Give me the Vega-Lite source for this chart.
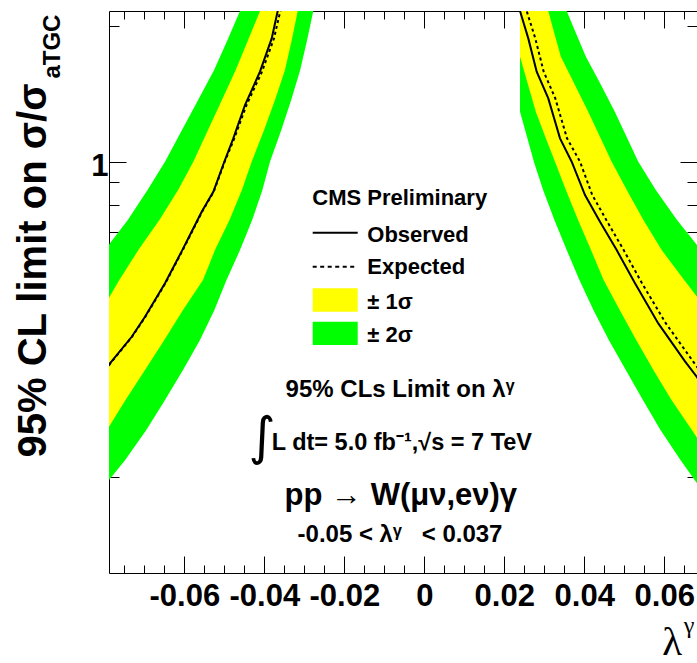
{
  "$schema": "https://vega.github.io/schema/vega-lite/v6.json",
  "width": 588,
  "height": 562,
  "autosize": {"type": "none"},
  "padding": {"left": 109, "top": 11, "right": 0, "bottom": 90},
  "background": "white",
  "config": {
    "view": {"stroke": "black", "strokeWidth": 1},
    "axis": {"grid": false, "domain": false, "tickColor": "black", "tickWidth": 1, "labelColor": "black", "titleColor": "black"}
  },
  "resolve": {"axis": {"x": "independent", "y": "independent"}},
  "datasets": {
    "green": [
      {"branch": "L", "sigma": 2.285, "lo": -0.0449, "hi": -0.02715},
      {"branch": "L", "sigma": 2.16, "lo": -0.04608, "hi": -0.02775},
      {"branch": "L", "sigma": 1.862, "lo": -0.0492, "hi": -0.0293},
      {"branch": "L", "sigma": 1.598, "lo": -0.05255, "hi": -0.03103},
      {"branch": "L", "sigma": 1.37, "lo": -0.05655, "hi": -0.03328},
      {"branch": "L", "sigma": 1.176, "lo": -0.06058, "hi": -0.03575},
      {"branch": "L", "sigma": 1.0, "lo": -0.06483, "hi": -0.03858},
      {"branch": "L", "sigma": 0.8655, "lo": -0.0692, "hi": -0.04048},
      {"branch": "L", "sigma": 0.7425, "lo": -0.07413, "hi": -0.04303},
      {"branch": "L", "sigma": 0.6367, "lo": -0.0799, "hi": -0.04608},
      {"branch": "L", "sigma": 0.5464, "lo": -0.08633, "hi": -0.04945},
      {"branch": "L", "sigma": 0.4689, "lo": -0.0927, "hi": -0.05248},
      {"branch": "L", "sigma": 0.4022, "lo": -0.09908, "hi": -0.05608},
      {"branch": "L", "sigma": 0.345, "lo": -0.10558, "hi": -0.06033},
      {"branch": "L", "sigma": 0.296, "lo": -0.11183, "hi": -0.06483},
      {"branch": "L", "sigma": 0.2539, "lo": -0.11833, "hi": -0.0695},
      {"branch": "L", "sigma": 0.2179, "lo": -0.12458, "hi": -0.07478},
      {"branch": "L", "sigma": 0.1869, "lo": -0.13108, "hi": -0.08085},
      {"branch": "L", "sigma": 0.1776, "lo": -0.13333, "hi": -0.08288},
      {"branch": "R", "sigma": 2.285, "lo": 0.02393, "hi": 0.03445},
      {"branch": "R", "sigma": 2.16, "lo": 0.02393, "hi": 0.0356},
      {"branch": "R", "sigma": 1.96, "lo": 0.02393, "hi": 0.03758},
      {"branch": "R", "sigma": 1.71, "lo": 0.02393, "hi": 0.0404},
      {"branch": "R", "sigma": 1.518, "lo": 0.02393, "hi": 0.04353},
      {"branch": "R", "sigma": 1.291, "lo": 0.02393, "hi": 0.04763},
      {"branch": "R", "sigma": 1.117, "lo": 0.0259, "hi": 0.05095},
      {"branch": "R", "sigma": 1.0, "lo": 0.0274, "hi": 0.0535},
      {"branch": "R", "sigma": 0.8655, "lo": 0.0297, "hi": 0.05788},
      {"branch": "R", "sigma": 0.7425, "lo": 0.03253, "hi": 0.06318},
      {"branch": "R", "sigma": 0.6367, "lo": 0.0356, "hi": 0.06918},
      {"branch": "R", "sigma": 0.5464, "lo": 0.03878, "hi": 0.07518},
      {"branch": "R", "sigma": 0.4689, "lo": 0.04228, "hi": 0.08118},
      {"branch": "R", "sigma": 0.4022, "lo": 0.04613, "hi": 0.08718},
      {"branch": "R", "sigma": 0.345, "lo": 0.05038, "hi": 0.09318},
      {"branch": "R", "sigma": 0.296, "lo": 0.05465, "hi": 0.09918},
      {"branch": "R", "sigma": 0.2539, "lo": 0.05905, "hi": 0.10518},
      {"branch": "R", "sigma": 0.2179, "lo": 0.06405, "hi": 0.11118},
      {"branch": "R", "sigma": 0.1869, "lo": 0.06935, "hi": 0.11718},
      {"branch": "R", "sigma": 0.1776, "lo": 0.07118, "hi": 0.11918}
    ],
    "yellow": [
      {"branch": "L", "sigma": 2.285, "lo": -0.03995, "hi": -0.0311},
      {"branch": "L", "sigma": 2.16, "lo": -0.04108, "hi": -0.03165},
      {"branch": "L", "sigma": 1.862, "lo": -0.04405, "hi": -0.03313},
      {"branch": "L", "sigma": 1.598, "lo": -0.04715, "hi": -0.03483},
      {"branch": "L", "sigma": 1.37, "lo": -0.0506, "hi": -0.03733},
      {"branch": "L", "sigma": 1.176, "lo": -0.05408, "hi": -0.04005},
      {"branch": "L", "sigma": 1.0, "lo": -0.05775, "hi": -0.04315},
      {"branch": "L", "sigma": 0.8655, "lo": -0.06155, "hi": -0.0456},
      {"branch": "L", "sigma": 0.7425, "lo": -0.06623, "hi": -0.0487},
      {"branch": "L", "sigma": 0.6367, "lo": -0.0715, "hi": -0.05233},
      {"branch": "L", "sigma": 0.5464, "lo": -0.07625, "hi": -0.05533},
      {"branch": "L", "sigma": 0.4689, "lo": -0.08058, "hi": -0.06033},
      {"branch": "L", "sigma": 0.4022, "lo": -0.08508, "hi": -0.065},
      {"branch": "L", "sigma": 0.345, "lo": -0.08958, "hi": -0.06983},
      {"branch": "L", "sigma": 0.296, "lo": -0.09408, "hi": -0.0747},
      {"branch": "L", "sigma": 0.2539, "lo": -0.09858, "hi": -0.07933},
      {"branch": "L", "sigma": 0.2179, "lo": -0.10308, "hi": -0.08408},
      {"branch": "R", "sigma": 2.285, "lo": 0.02393, "hi": 0.03028},
      {"branch": "R", "sigma": 2.16, "lo": 0.02393, "hi": 0.031},
      {"branch": "R", "sigma": 1.96, "lo": 0.02393, "hi": 0.03228},
      {"branch": "R", "sigma": 1.71, "lo": 0.02393, "hi": 0.03415},
      {"branch": "R", "sigma": 1.518, "lo": 0.0256, "hi": 0.03705},
      {"branch": "R", "sigma": 1.291, "lo": 0.02788, "hi": 0.04098},
      {"branch": "R", "sigma": 1.117, "lo": 0.03055, "hi": 0.0443},
      {"branch": "R", "sigma": 1.0, "lo": 0.03268, "hi": 0.04685},
      {"branch": "R", "sigma": 0.8655, "lo": 0.0354, "hi": 0.05063},
      {"branch": "R", "sigma": 0.7425, "lo": 0.03845, "hi": 0.05478},
      {"branch": "R", "sigma": 0.6367, "lo": 0.04168, "hi": 0.05935},
      {"branch": "R", "sigma": 0.5464, "lo": 0.04483, "hi": 0.06498},
      {"branch": "R", "sigma": 0.4689, "lo": 0.04885, "hi": 0.07068},
      {"branch": "R", "sigma": 0.4022, "lo": 0.05298, "hi": 0.07643},
      {"branch": "R", "sigma": 0.345, "lo": 0.05728, "hi": 0.08193},
      {"branch": "R", "sigma": 0.296, "lo": 0.0618, "hi": 0.08768},
      {"branch": "R", "sigma": 0.2539, "lo": 0.0669, "hi": 0.09343},
      {"branch": "R", "sigma": 0.2179, "lo": 0.07193, "hi": 0.09918}
    ],
    "observed": [
      {"branch": "L", "lambda": -0.03605, "sigma": 2.285},
      {"branch": "L", "lambda": -0.03665, "sigma": 2.16},
      {"branch": "L", "lambda": -0.03815, "sigma": 1.878},
      {"branch": "L", "lambda": -0.04108, "sigma": 1.584},
      {"branch": "L", "lambda": -0.04483, "sigma": 1.336},
      {"branch": "L", "lambda": -0.04775, "sigma": 1.127},
      {"branch": "L", "lambda": -0.05, "sigma": 1.0},
      {"branch": "L", "lambda": -0.05275, "sigma": 0.8578},
      {"branch": "L", "lambda": -0.05565, "sigma": 0.7745},
      {"branch": "L", "lambda": -0.059, "sigma": 0.6762},
      {"branch": "L", "lambda": -0.0605, "sigma": 0.6367},
      {"branch": "L", "lambda": -0.06483, "sigma": 0.5373},
      {"branch": "L", "lambda": -0.06983, "sigma": 0.4529},
      {"branch": "L", "lambda": -0.07315, "sigma": 0.4089},
      {"branch": "L", "lambda": -0.07858, "sigma": 0.357},
      {"branch": "L", "lambda": -0.08158, "sigma": 0.3279},
      {"branch": "R", "lambda": 0.02393, "sigma": 2.16},
      {"branch": "R", "lambda": 0.026, "sigma": 1.878},
      {"branch": "R", "lambda": 0.0281, "sigma": 1.584},
      {"branch": "R", "lambda": 0.031, "sigma": 1.382},
      {"branch": "R", "lambda": 0.03393, "sigma": 1.127},
      {"branch": "R", "lambda": 0.03685, "sigma": 1.0},
      {"branch": "R", "lambda": 0.04018, "sigma": 0.8436},
      {"branch": "R", "lambda": 0.04393, "sigma": 0.736},
      {"branch": "R", "lambda": 0.0481, "sigma": 0.6367},
      {"branch": "R", "lambda": 0.05268, "sigma": 0.5373},
      {"branch": "R", "lambda": 0.0585, "sigma": 0.4378},
      {"branch": "R", "lambda": 0.06518, "sigma": 0.3607},
      {"branch": "R", "lambda": 0.0681, "sigma": 0.3334},
      {"branch": "R", "lambda": 0.07043, "sigma": 0.3115}
    ],
    "expected": [
      {"branch": "L", "lambda": -0.03533, "sigma": 2.285},
      {"branch": "L", "lambda": -0.036, "sigma": 2.16},
      {"branch": "L", "lambda": -0.03758, "sigma": 1.878},
      {"branch": "L", "lambda": -0.04058, "sigma": 1.584},
      {"branch": "L", "lambda": -0.04445, "sigma": 1.336},
      {"branch": "L", "lambda": -0.0475, "sigma": 1.127},
      {"branch": "L", "lambda": -0.0499, "sigma": 1.0},
      {"branch": "L", "lambda": -0.05265, "sigma": 0.8578},
      {"branch": "L", "lambda": -0.05555, "sigma": 0.7745},
      {"branch": "L", "lambda": -0.0589, "sigma": 0.6762},
      {"branch": "L", "lambda": -0.0604, "sigma": 0.6367},
      {"branch": "L", "lambda": -0.06473, "sigma": 0.5373},
      {"branch": "L", "lambda": -0.06973, "sigma": 0.4529},
      {"branch": "L", "lambda": -0.07305, "sigma": 0.4089},
      {"branch": "L", "lambda": -0.07848, "sigma": 0.357},
      {"branch": "L", "lambda": -0.08148, "sigma": 0.3279},
      {"branch": "R", "lambda": 0.0248, "sigma": 2.285},
      {"branch": "R", "lambda": 0.0256, "sigma": 2.16},
      {"branch": "R", "lambda": 0.02775, "sigma": 1.878},
      {"branch": "R", "lambda": 0.02985, "sigma": 1.584},
      {"branch": "R", "lambda": 0.03275, "sigma": 1.382},
      {"branch": "R", "lambda": 0.03568, "sigma": 1.127},
      {"branch": "R", "lambda": 0.03893, "sigma": 1.0},
      {"branch": "R", "lambda": 0.042, "sigma": 0.8436},
      {"branch": "R", "lambda": 0.04575, "sigma": 0.736},
      {"branch": "R", "lambda": 0.04985, "sigma": 0.6367},
      {"branch": "R", "lambda": 0.05443, "sigma": 0.5373},
      {"branch": "R", "lambda": 0.0604, "sigma": 0.4378},
      {"branch": "R", "lambda": 0.06718, "sigma": 0.3607},
      {"branch": "R", "lambda": 0.07, "sigma": 0.3334},
      {"branch": "R", "lambda": 0.0723, "sigma": 0.3115}
    ],
    "legend_solid": [{"x": -0.0279, "x2": -0.01665, "y": 0.6959}],
    "legend_dotted": [{"x": -0.0279, "x2": -0.01665, "y": 0.5848}],
    "legend_yellow": [{"x": -0.0279, "x2": -0.01665, "y": 0.4649, "y2": 0.5237}],
    "legend_green": [{"x": -0.0279, "x2": -0.01665, "y": 0.3921, "y2": 0.4416}],
    "legend_labels": [
      {"text": "Observed", "x": -0.01425, "y": 0.6645},
      {"text": "Expected", "x": -0.01425, "y": 0.5633},
      {"text": "± 1σ", "x": -0.01425, "y": 0.4707},
      {"text": "± 2σ", "x": -0.01425, "y": 0.3987}
    ],
    "lumi": [{"text": "L dt= 5.0 fb⁻¹,√s = 7 TeV", "x": -0.03815, "y": 0.2293}],
    "header": [{"text": "CMS Preliminary", "x": -0.00615, "y": 0.8014}],
    "notes": [
      {"text": "95% CLs Limit on λᵞ", "x": -0.006075, "y": 0.3011},
      {"text": "-0.05 < λᵞ\u00a0\u00a0 < 0.037", "x": -0.006075, "y": 0.1435}
    ],
    "process": [{"text": "pp → W(μν,eν)γ", "x": -0.00587, "y": 0.1731}],
    "integral": [{"text": "∫", "x": -0.04065, "y": 0.2437}],
    "ysub": [{"text": "aTGC", "x": -0.091075, "y": 1.801}],
    "xsup": [{"text": "γ", "x": 0.066175, "y": 0.09}]
  },
  "layer": [
    {
      "data": {"name": "green"},
      "mark": {"type": "area", "color": "#00ff00", "clip": true},
      "encoding": {
        "y": {"field": "sigma", "type": "quantitative",
              "scale": {"type": "log", "domain": [0.1223, 2.16], "nice": false},
              "axis": {"orient": "left", "values": [1], "format": "~g", "tickSize": -17,
                       "labelFont": "Liberation Sans", "labelFontWeight": "bold", "labelFontSize": 31,
                       "labelPadding": 18, "labelBaseline": "alphabetic", "labelOffset": 14,
                       "title": "95% CL limit on σ/σ", "titleFont": "Liberation Sans", "titleFontWeight": "bold",
                       "titleFontSize": 40, "titleAngle": 270, "titleX": -64, "titleY": 259,
                       "titleAlign": "center", "titleBaseline": "alphabetic"}},
        "x": {"field": "lo", "type": "quantitative",
              "scale": {"domain": [-0.07883, 0.06818], "nice": false, "zero": false},
              "axis": {"orient": "bottom", "values": [-0.06, -0.04, -0.02, 0, 0.02, 0.04, 0.06], "format": "~g",
                       "labelExpr": "replace(datum.label, '−', '-')",
                       "tickSize": -17, "labelFont": "Liberation Sans", "labelFontWeight": "bold", "labelFontSize": 31,
                       "labelBaseline": "alphabetic", "labelPadding": 49, "labelAlign": "center",
                       "labelOverlap": false, "labelFlush": false, "labelBound": false,
                       "title": "λ", "titleFont": "Liberation Serif", "titleFontWeight": "normal", "titleFontSize": 41,
                       "titleX": 562.7, "titleY": 81, "titleAlign": "center", "titleBaseline": "alphabetic"}},
        "x2": {"field": "hi"},
        "detail": {"field": "branch"}
      }
    },
    {
      "data": {"name": "yellow"},
      "mark": {"type": "area", "color": "#ffff00", "clip": true},
      "encoding": {
        "y": {"field": "sigma", "type": "quantitative",
              "scale": {"type": "log", "domain": [0.1223, 2.16], "nice": false},
              "axis": {"orient": "left", "values": [0.2, 0.3, 0.4, 0.5, 0.6, 0.7, 0.8, 0.9, 2], "labels": false, "tickSize": -10, "title": null}},
        "x": {"field": "lo", "type": "quantitative",
              "scale": {"domain": [-0.07883, 0.06818], "nice": false, "zero": false},
              "axis": {"orient": "bottom", "values": [-0.075, -0.07, -0.065, -0.055, -0.05, -0.045, -0.035, -0.03, -0.025, -0.015, -0.01, -0.005, 0.005, 0.01, 0.015, 0.025, 0.03, 0.035, 0.045, 0.05, 0.055, 0.065],
                       "labels": false, "tickSize": -8, "title": null}},
        "x2": {"field": "hi"},
        "detail": {"field": "branch"}
      }
    },
    {
      "mark": {"type": "rule", "color": "#999999", "strokeWidth": 1.5, "strokeDash": [23, 9]},
      "encoding": {
        "y": {"datum": 1, "type": "quantitative", "scale": {"type": "log", "domain": [0.1223, 2.16], "nice": false}, "axis": null}
      }
    },
    {
      "data": {"name": "observed"},
      "mark": {"type": "line", "color": "black", "strokeWidth": 2, "clip": true},
      "encoding": {
        "y": {"field": "sigma", "type": "quantitative",
              "scale": {"type": "log", "domain": [0.1223, 2.16], "nice": false},
              "axis": {"orient": "right", "values": [1], "labels": false, "tickSize": -17, "title": null}},
        "x": {"field": "lambda", "type": "quantitative",
              "scale": {"domain": [-0.07883, 0.06818], "nice": false, "zero": false},
              "axis": {"orient": "top", "values": [-0.06, -0.04, -0.02, 0, 0.02, 0.04, 0.06], "labels": false, "tickSize": -17, "title": null}},
        "detail": {"field": "branch"}
      }
    },
    {
      "data": {"name": "expected"},
      "mark": {"type": "line", "color": "black", "strokeWidth": 2, "strokeDash": [3, 3], "clip": true},
      "encoding": {
        "y": {"field": "sigma", "type": "quantitative",
              "scale": {"type": "log", "domain": [0.1223, 2.16], "nice": false},
              "axis": {"orient": "right", "values": [0.2, 0.3, 0.4, 0.5, 0.6, 0.7, 0.8, 0.9, 2], "labels": false, "tickSize": -10, "title": null}},
        "x": {"field": "lambda", "type": "quantitative",
              "scale": {"domain": [-0.07883, 0.06818], "nice": false, "zero": false},
              "axis": {"orient": "top", "values": [-0.075, -0.07, -0.065, -0.055, -0.05, -0.045, -0.035, -0.03, -0.025, -0.015, -0.01, -0.005, 0.005, 0.01, 0.015, 0.025, 0.03, 0.035, 0.045, 0.05, 0.055, 0.065],
                       "labels": false, "tickSize": -8, "title": null}},
        "detail": {"field": "branch"}
      }
    },
    {
      "data": {"name": "legend_solid"},
      "mark": {"type": "rule", "color": "black", "strokeWidth": 2},
      "encoding": {
        "x": {"field": "x", "type": "quantitative", "scale": {"domain": [-0.07883, 0.06818], "nice": false, "zero": false}, "axis": null},
        "x2": {"field": "x2"},
        "y": {"field": "y", "type": "quantitative", "scale": {"type": "log", "domain": [0.1223, 2.16], "nice": false}, "axis": null}
      }
    },
    {
      "data": {"name": "legend_dotted"},
      "mark": {"type": "rule", "color": "black", "strokeWidth": 2, "strokeDash": [4, 3.5]},
      "encoding": {
        "x": {"field": "x", "type": "quantitative", "scale": {"domain": [-0.07883, 0.06818], "nice": false, "zero": false}, "axis": null},
        "x2": {"field": "x2"},
        "y": {"field": "y", "type": "quantitative", "scale": {"type": "log", "domain": [0.1223, 2.16], "nice": false}, "axis": null}
      }
    },
    {
      "data": {"name": "legend_yellow"},
      "mark": {"type": "rect", "color": "#ffff00"},
      "encoding": {
        "x": {"field": "x", "type": "quantitative", "scale": {"domain": [-0.07883, 0.06818], "nice": false, "zero": false}, "axis": null},
        "x2": {"field": "x2"},
        "y": {"field": "y", "type": "quantitative", "scale": {"type": "log", "domain": [0.1223, 2.16], "nice": false}, "axis": null},
        "y2": {"field": "y2"}
      }
    },
    {
      "data": {"name": "legend_green"},
      "mark": {"type": "rect", "color": "#00ff00"},
      "encoding": {
        "x": {"field": "x", "type": "quantitative", "scale": {"domain": [-0.07883, 0.06818], "nice": false, "zero": false}, "axis": null},
        "x2": {"field": "x2"},
        "y": {"field": "y", "type": "quantitative", "scale": {"type": "log", "domain": [0.1223, 2.16], "nice": false}, "axis": null},
        "y2": {"field": "y2"}
      }
    },
    {
      "data": {"name": "legend_labels"},
      "mark": {"type": "text", "font": "Liberation Sans", "fontWeight": "bold", "fontSize": 22, "align": "left", "baseline": "alphabetic", "color": "black"},
      "encoding": {
        "x": {"field": "x", "type": "quantitative", "scale": {"domain": [-0.07883, 0.06818], "nice": false, "zero": false}, "axis": null},
        "y": {"field": "y", "type": "quantitative", "scale": {"type": "log", "domain": [0.1223, 2.16], "nice": false}, "axis": null},
        "text": {"field": "text"}
      }
    },
    {
      "data": {"name": "lumi"},
      "mark": {"type": "text", "font": "Liberation Sans", "fontWeight": "bold", "fontSize": 23.5, "align": "left", "baseline": "alphabetic", "color": "black"},
      "encoding": {
        "x": {"field": "x", "type": "quantitative", "scale": {"domain": [-0.07883, 0.06818], "nice": false, "zero": false}, "axis": null},
        "y": {"field": "y", "type": "quantitative", "scale": {"type": "log", "domain": [0.1223, 2.16], "nice": false}, "axis": null},
        "text": {"field": "text"}
      }
    },
    {
      "data": {"name": "header"},
      "mark": {"type": "text", "font": "Liberation Sans", "fontWeight": "bold", "fontSize": 22, "align": "center", "baseline": "alphabetic", "color": "black"},
      "encoding": {
        "x": {"field": "x", "type": "quantitative", "scale": {"domain": [-0.07883, 0.06818], "nice": false, "zero": false}, "axis": null},
        "y": {"field": "y", "type": "quantitative", "scale": {"type": "log", "domain": [0.1223, 2.16], "nice": false}, "axis": null},
        "text": {"field": "text"}
      }
    },
    {
      "data": {"name": "notes"},
      "mark": {"type": "text", "font": "Liberation Sans", "fontWeight": "bold", "fontSize": 24, "align": "center", "baseline": "alphabetic", "color": "black"},
      "encoding": {
        "x": {"field": "x", "type": "quantitative", "scale": {"domain": [-0.07883, 0.06818], "nice": false, "zero": false}, "axis": null},
        "y": {"field": "y", "type": "quantitative", "scale": {"type": "log", "domain": [0.1223, 2.16], "nice": false}, "axis": null},
        "text": {"field": "text"}
      }
    },
    {
      "data": {"name": "process"},
      "mark": {"type": "text", "font": "Liberation Sans", "fontWeight": "bold", "fontSize": 31, "align": "center", "baseline": "alphabetic", "color": "black"},
      "encoding": {
        "x": {"field": "x", "type": "quantitative", "scale": {"domain": [-0.07883, 0.06818], "nice": false, "zero": false}, "axis": null},
        "y": {"field": "y", "type": "quantitative", "scale": {"type": "log", "domain": [0.1223, 2.16], "nice": false}, "axis": null},
        "text": {"field": "text"}
      }
    },
    {
      "data": {"name": "integral"},
      "mark": {"type": "text", "font": "DejaVu Sans", "fontSize": 52, "align": "center", "baseline": "middle", "color": "black"},
      "encoding": {
        "x": {"field": "x", "type": "quantitative", "scale": {"domain": [-0.07883, 0.06818], "nice": false, "zero": false}, "axis": null},
        "y": {"field": "y", "type": "quantitative", "scale": {"type": "log", "domain": [0.1223, 2.16], "nice": false}, "axis": null},
        "text": {"field": "text"}
      }
    },
    {
      "data": {"name": "ysub"},
      "mark": {"type": "text", "font": "Liberation Sans", "fontWeight": "bold", "fontSize": 24, "align": "center", "baseline": "alphabetic", "angle": 270, "color": "black"},
      "encoding": {
        "x": {"field": "x", "type": "quantitative", "scale": {"domain": [-0.07883, 0.06818], "nice": false, "zero": false}, "axis": null},
        "y": {"field": "y", "type": "quantitative", "scale": {"type": "log", "domain": [0.1223, 2.16], "nice": false}, "axis": null},
        "text": {"field": "text"}
      }
    },
    {
      "data": {"name": "xsup"},
      "mark": {"type": "text", "font": "Liberation Serif", "fontSize": 24, "align": "center", "baseline": "alphabetic", "color": "black"},
      "encoding": {
        "x": {"field": "x", "type": "quantitative", "scale": {"domain": [-0.07883, 0.06818], "nice": false, "zero": false}, "axis": null},
        "y": {"field": "y", "type": "quantitative", "scale": {"type": "log", "domain": [0.1223, 2.16], "nice": false}, "axis": null},
        "text": {"field": "text"}
      }
    }
  ]
}
